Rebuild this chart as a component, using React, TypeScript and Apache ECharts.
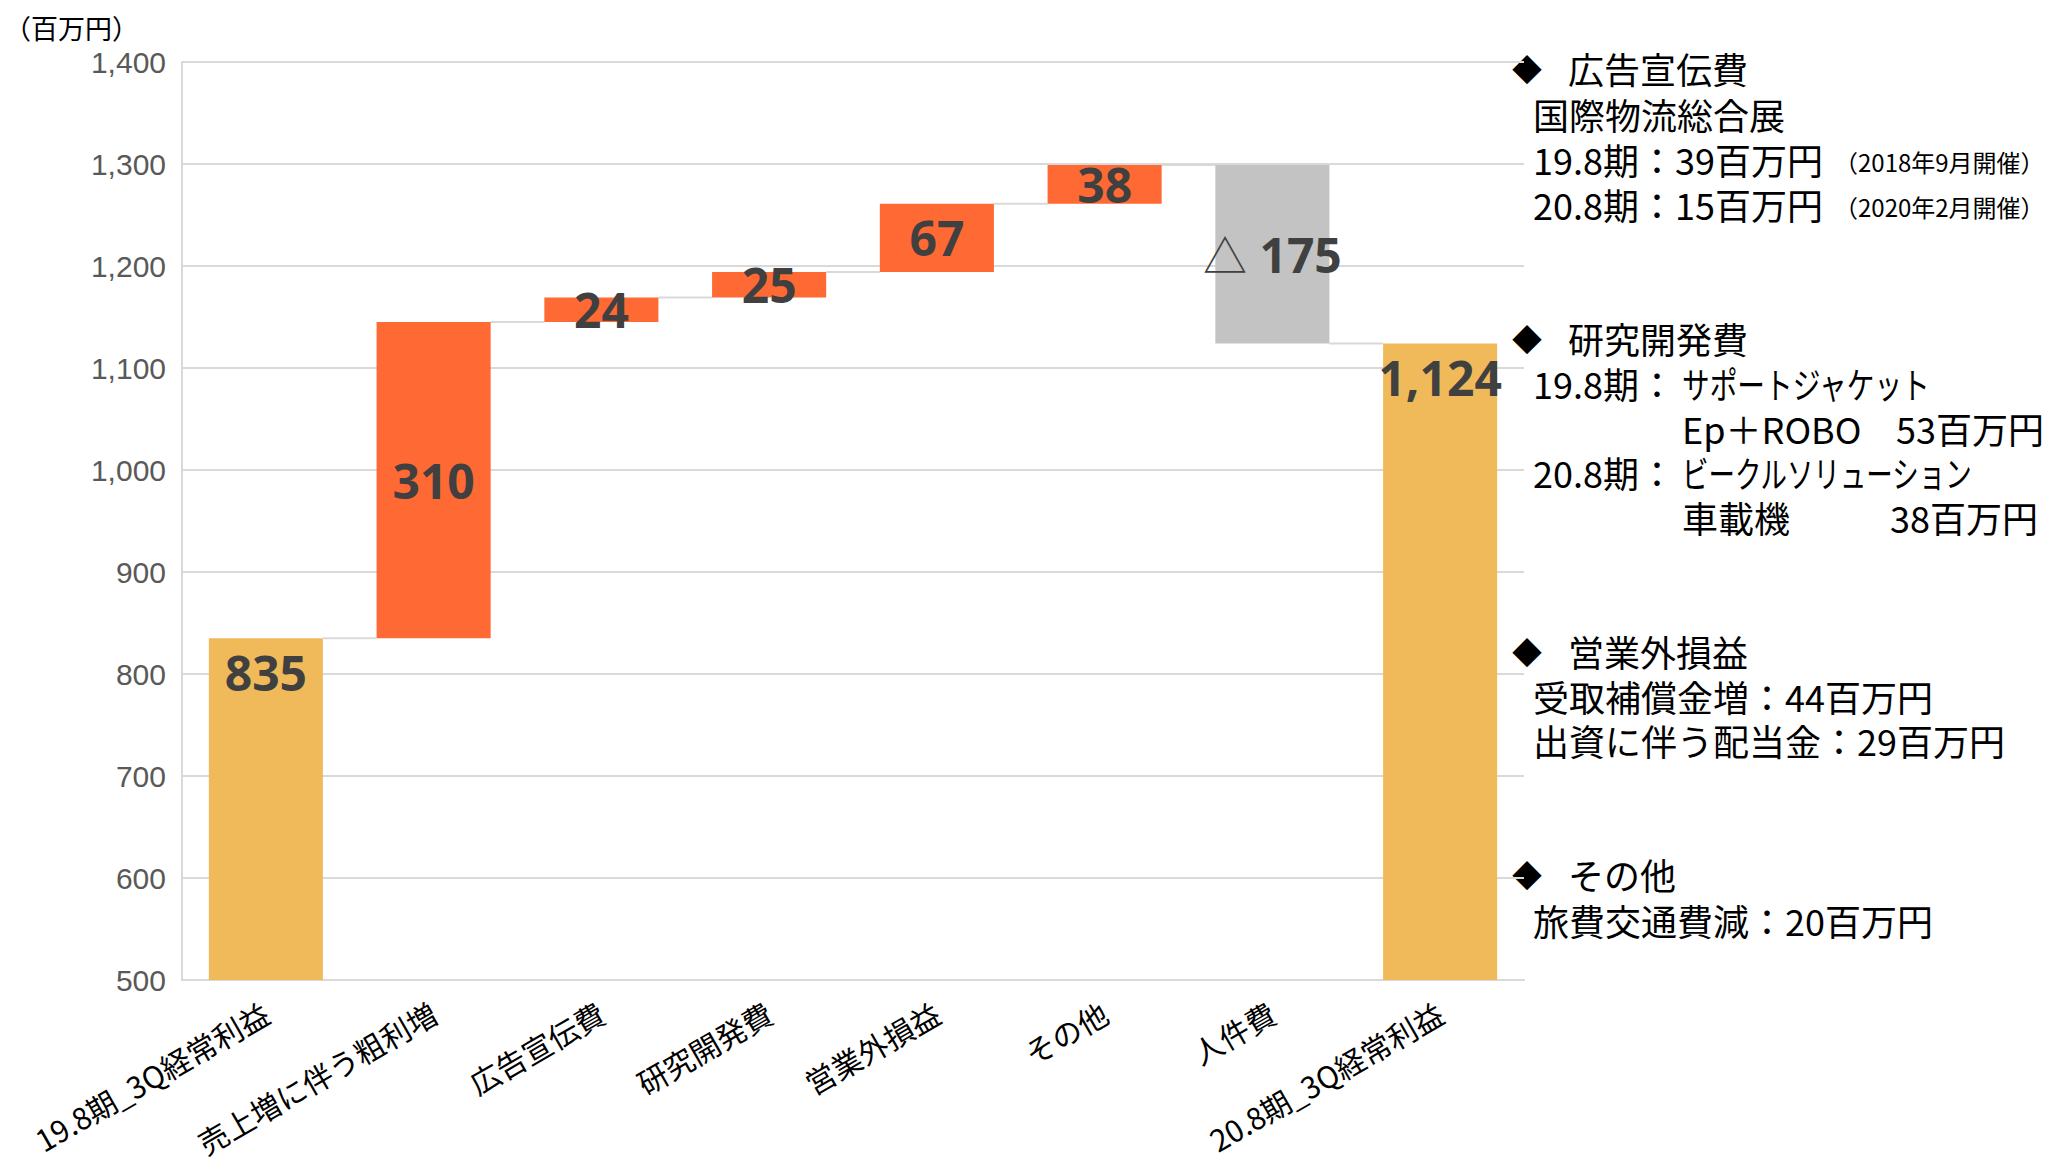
import React, { useEffect, useRef } from "react";
import * as echarts from "echarts";

const categories = [
  "19.8期_3Q経常利益",
  "売上増に伴う粗利増",
  "広告宣伝費",
  "研究開発費",
  "営業外損益",
  "その他",
  "人件費",
  "20.8期_3Q経常利益",
];
const changes = [835, 310, 24, 25, 67, 38, -175, 1124];
const kinds = ["total", "up", "up", "up", "up", "up", "down", "total"];
const yTicks = { min: 500, max: 1400, interval: 100 };
const unitLabel = "（百万円）";

const notes = [
  { kind: "head", text: "広告宣伝費", y: 68 },
  { kind: "body", text: "国際物流総合展", y: 114 },
  { kind: "body", text: "19.8期：39百万円", y: 159, small: "（2018年9月開催）" },
  { kind: "body", text: "20.8期：15百万円", y: 204, small: "（2020年2月開催）" },
  { kind: "head", text: "研究開発費", y: 338 },
  { kind: "body", text: "19.8期：", y: 383, tail: "サポートジャケット", tailW: 249 },
  { kind: "indent", text: "Ep＋ROBO", y: 428, right: "53百万円", rightX: 1896 },
  { kind: "body", text: "20.8期：", y: 472, tail: "ビークルソリューション", tailW: 291 },
  { kind: "indent", text: "車載機", y: 517, right: "38百万円", rightX: 1890 },
  { kind: "head", text: "営業外損益", y: 651 },
  { kind: "body", text: "受取補償金増：44百万円", y: 696 },
  { kind: "body", text: "出資に伴う配当金：29百万円", y: 740 },
  { kind: "head", text: "その他", y: 874 },
  { kind: "body", text: "旅費交通費減：20百万円", y: 920 },
];

const COLORS = { total: "#F0BA5A", up: "#FF6933", down: "#C3C3C3" };
const CJK = '"Noto Sans CJK JP", "Noto Sans", sans-serif';

function fmt(n: number) {
  return Math.abs(n).toLocaleString("en-US");
}

function measure(text: string, font: string) {
  try {
    const ctx = document.createElement("canvas").getContext("2d");
    if (!ctx) return text.length * 36;
    ctx.font = font;
    return ctx.measureText(text).width;
  } catch (e) {
    return text.length * 36;
  }
}

export default function App() {
  const ref = useRef<HTMLDivElement>(null);

  useEffect(() => {
    if (!ref.current) return;
    const chart = echarts.init(ref.current, null, { renderer: "svg" });

    const bases: number[] = [];
    const heights: number[] = [];
    const levels: number[] = [];
    let running = 0;
    changes.forEach((v, i) => {
      const k = kinds[i];
      if (k === "total") {
        bases.push(0);
        heights.push(v);
        running = v;
      } else if (k === "up") {
        bases.push(running);
        heights.push(v);
        running += v;
      } else {
        running += v;
        bases.push(running);
        heights.push(-v);
      }
      levels.push(running);
    });

    const barData = heights.map((h, i) => {
      const k = kinds[i];
      let label: any;
      if (k === "total") {
        label = { position: "insideTop", distance: 10, formatter: fmt(changes[i]) };
      } else if (k === "down") {
        label = { position: "inside", formatter: "{tri|△} {num|" + fmt(changes[i]) + "}" };
      } else {
        label = { position: "inside", formatter: fmt(changes[i]) };
      }
      return { value: h, itemStyle: { color: (COLORS as any)[k] }, label };
    });

    const connectorData = levels.slice(0, levels.length - 1).map((l, i) => [i, l]);

    const bodyFont = `36px ${CJK}`;
    const graphic: any[] = [
      {
        type: "text",
        x: 4,
        y: 27,
        style: { text: unitLabel, font: `27px ${CJK}`, fill: "#000", verticalAlign: "middle" },
      },
    ];
    notes.forEach((n: any) => {
      if (n.kind === "head") {
        graphic.push({
          type: "text",
          x: 1512,
          y: n.y,
          style: { text: "◆", font: `30px ${CJK}`, fill: "#000", verticalAlign: "middle" },
        });
        graphic.push({
          type: "text",
          x: 1568,
          y: n.y,
          style: { text: n.text, font: bodyFont, fill: "#000", verticalAlign: "middle" },
        });
      } else {
        const x = n.kind === "indent" ? 1682 : 1533;
        graphic.push({
          type: "text",
          x,
          y: n.y,
          style: { text: n.text, font: bodyFont, fill: "#000", verticalAlign: "middle" },
        });
        if (n.tail) {
          const w = measure(n.tail, bodyFont);
          const sx = w > 0 ? Math.min(1, n.tailW / w) : 1;
          graphic.push({
            type: "text",
            x: 1682,
            y: n.y,
            scaleX: sx,
            style: { text: n.tail, font: bodyFont, fill: "#000", verticalAlign: "middle" },
          });
        }
        if (n.small) {
          graphic.push({
            type: "text",
            x: 1834,
            y: n.y + 2,
            style: { text: n.small, font: `24px ${CJK}`, fill: "#000", verticalAlign: "middle" },
          });
        }
        if (n.right) {
          graphic.push({
            type: "text",
            x: n.rightX,
            y: n.y,
            style: { text: n.right, font: bodyFont, fill: "#000", verticalAlign: "middle" },
          });
        }
      }
    });

    chart.setOption({
      animation: false,
      backgroundColor: "#fff",
      grid: { left: 182, top: 62, width: 1342, height: 918, containLabel: false },
      graphic,
      xAxis: {
        type: "category",
        data: categories,
        axisLine: { show: true, lineStyle: { color: "#D9D9D9", width: 2 } },
        axisTick: { show: false },
        axisLabel: {
          interval: 0,
          rotate: 30,
          margin: 30,
          fontSize: 30,
          color: "#000",
          fontFamily: CJK,
        },
      },
      yAxis: {
        type: "value",
        min: yTicks.min,
        max: yTicks.max,
        interval: yTicks.interval,
        axisLine: { show: true, lineStyle: { color: "#D9D9D9", width: 2 } },
        axisTick: { show: false },
        splitLine: { show: true, lineStyle: { color: "#D9D9D9", width: 2 } },
        axisLabel: {
          margin: 16,
          fontSize: 30,
          color: "#595959",
          fontFamily: '"Liberation Sans", sans-serif',
          formatter: (v: number) => v.toLocaleString("en-US"),
        },
      },
      series: [
        {
          type: "custom",
          z: 1,
          silent: true,
          encode: { x: 0, y: 1 },
          data: connectorData,
          renderItem: (params: any, api: any) => {
            const i = api.value(0);
            const lvl = api.value(1);
            const p = api.coord([i, lvl]);
            const w = api.size([1, 0])[0];
            const bw = w * 0.68;
            return {
              type: "line",
              shape: { x1: p[0] + bw / 2, y1: p[1], x2: p[0] + w - bw / 2, y2: p[1] },
              style: { stroke: "#D9D9D9", lineWidth: 2 },
            };
          },
        },
        {
          type: "bar",
          stack: "w",
          z: 2,
          silent: true,
          barCategoryGap: "32%",
          itemStyle: { color: "transparent" },
          data: bases,
        },
        {
          type: "bar",
          stack: "w",
          z: 3,
          barCategoryGap: "32%",
          data: barData,
          label: {
            show: true,
            fontSize: 48,
            fontWeight: "bold",
            fontFamily: '"Noto Sans", sans-serif',
            color: "#404040",
            rich: {
              tri: { fontSize: 44, fontWeight: "normal", color: "#404040", fontFamily: CJK },
              num: { fontSize: 48, fontWeight: "bold", color: "#404040", fontFamily: '"Noto Sans", sans-serif' },
            },
          },
        },
      ],
    });

    return () => chart.dispose();
  }, []);

  return (
    <div
      ref={ref}
      style={{ position: "absolute", left: 0, top: 0, width: 2055, height: 1168 }}
    />
  );
}
